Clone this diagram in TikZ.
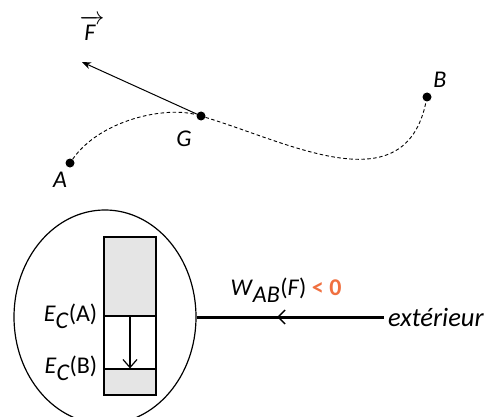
\documentclass[tikz,border=0pt]{standalone}
\usepackage{fontspec}
\setmainfont{Carlito}
\usetikzlibrary{arrows.meta,shapes.geometric,decorations.markings}
\definecolor{signorange}{RGB}{240,112,64}

\begin{document}
\begin{tikzpicture}[x=1pt, y=-1pt,
  pt/.style={circle, fill=black, inner sep=0pt, minimum size=9pt},
  lab/.style={font=\fontsize{24}{28}\selectfont, inner sep=1pt},
  traj/.style={dash pattern=on 3.5pt off 2.5pt, line width=.9pt},
  force/.style={-{Stealth[length=9pt,width=7pt]}, line width=1pt},
  bar/.style={draw, line width=1.2pt, minimum width=52pt, inner sep=0pt},
  work/.style={line width=3pt, postaction={decorate},
    decoration={markings, mark=at position .43 with
      {\arrowreversed{Straight Barb[length=7pt,width=14pt,line width=1.3pt]}}}}
]
\clip (0,0) rectangle (492,417);

% trajectoire
\node[pt] (A) at (70,163) {};
\node[pt] (G) at (201,116) {};
\node[pt] (B) at (427,97) {};
\coordinate (Fend) at (82,62);
\draw[traj] (A) .. controls (100,120) and (165,106) .. (G)
  .. controls (290,143) and (405,205) .. (B);
\draw[force] (G) -- (Fend);
\node[lab] (labF) at (92,28) {$\overrightarrow{\vphantom{A}\textit{F}\,}$};
\node[lab] (labG) at (184,139) {\textit{G}};
\node[lab] (labA) at (60,180) {\textit{A}};
\node[lab] (labB) at (440,80) {\textit{B}};

% systeme et energie cinetique
\node[ellipse, draw, line width=1.2pt, minimum width=182pt,
      minimum height=214pt] (sys) at (105,317) {};
\node[bar, fill=black!10, minimum height=79pt] (top) at (130,276.5) {};
\node[bar, fill=white, minimum height=53pt] (mid) at (130,342.5) {};
\node[bar, fill=black!10, minimum height=26pt] (bot) at (130,382) {};
\draw[-{Straight Barb[length=8pt,width=14pt]}, line width=1.2pt]
  (top.south) -- (bot.north);
\node[lab, anchor=east] (ecA) at ([xshift=-5pt]top.south west)
  {\textit{E}$_{\textit{C}}$(A)};
\node[lab, anchor=east] (ecB) at ([xshift=-5pt]bot.north west)
  {\textit{E}$_{\textit{C}}$(B)};

% travail recu de l'exterieur
\node[lab, font=\fontsize{26.5}{30}\selectfont, anchor=west, inner sep=4pt]
  (ext) at (384,317) {\textit{extérieur}};
\draw[work] (sys.east) -- (ext.west);
\node[lab] (wab) at (286,290)
  {\textit{W}$_{\textit{AB}}$(\textit{F}) \textcolor{signorange}{\textbf{< 0}}};
\end{tikzpicture}
\end{document}
